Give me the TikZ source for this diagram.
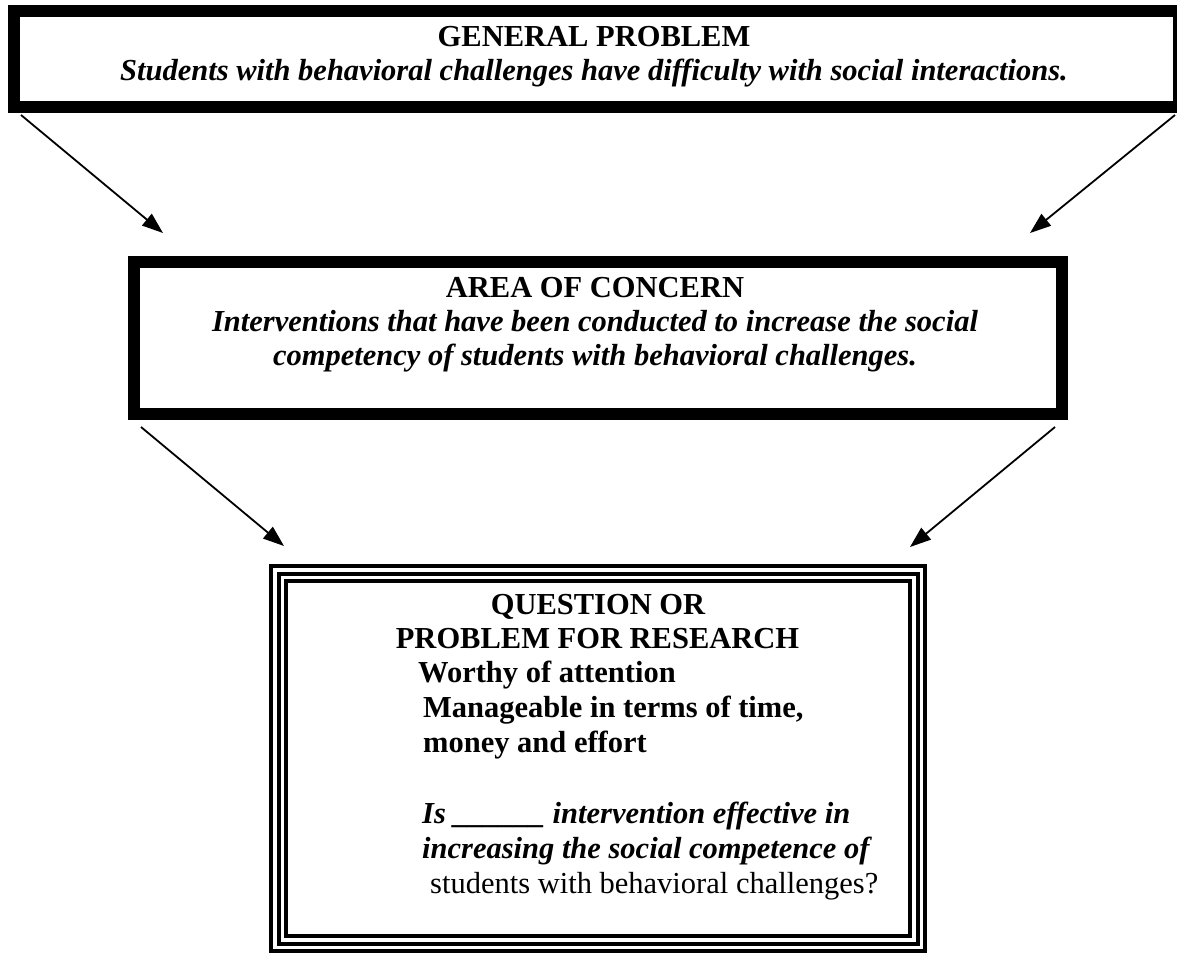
\documentclass[tikz,border=0pt]{standalone}
\usepackage{fontspec}
\setmainfont{Liberation Serif}
\usetikzlibrary{arrows.meta}
\begin{document}
\begin{tikzpicture}[x=1pt,y=-1pt,
  thickbox/.style={draw=black, line width=12pt, inner sep=0pt, outer sep=0pt},
  thinbox/.style={draw=black, line width=4pt, inner sep=0pt, outer sep=0pt},
  txt/.style={inner sep=0pt, font=\fontsize{30.5pt}{35pt}\selectfont},
  hd/.style={txt, anchor=base, font=\fontsize{30.5pt}{35pt}\selectfont\bfseries},
  it/.style={txt, anchor=base, font=\fontsize{30.5pt}{35pt}\selectfont\bfseries\itshape},
  conn/.style={line width=1.8pt, -{Triangle[length=21pt,width=15pt]}}
]
\useasboundingbox (0,0) rectangle (1177,955);
\fill[white] (0,0) rectangle (1177,955);

% boxes
\node[thickbox, minimum width=1164.5pt, minimum height=96.5pt] (gp) at (596.25,59.25) {};
\node[thickbox, minimum width=928pt, minimum height=152pt] (ac) at (598,338) {};
\node[thinbox, minimum width=654pt, minimum height=385pt] (qp) at (598,758.5) {};
\draw[line width=4pt] ([shift={(7.5pt,-7.5pt)}]qp.north west) rectangle ([shift={(-7.5pt,7.5pt)}]qp.south east);
\draw[line width=4pt] ([shift={(15pt,-15pt)}]qp.north west) rectangle ([shift={(-15pt,15pt)}]qp.south east);

% texts
\node[hd] (gpt) at (594,47) {GENERAL PROBLEM};
\node[it] (gpi) at (594,81) {Students with behavioral challenges have difficulty with social interactions.};

\node[hd] (act) at (595,297) {AREA OF CONCERN};
\node[it] (aci1) at (595,331) {Interventions that have been conducted to increase the social};
\node[it] (aci2) at (595,365) {competency of students with behavioral challenges.};

\node[hd] (q1) at (598,614) {QUESTION OR};
\node[hd] (q2) at (597.5,648) {PROBLEM FOR RESEARCH};
\node[hd, anchor=base west] (q3) at (418,682) {Worthy of attention};
\node[hd, anchor=base west] (q4) at (423,717) {Manageable in terms of time,};
\node[hd, anchor=base west] (q5) at (423,752) {money and effort};
\node[it, anchor=base west] (q6) at (422,823) {Is \_\_\_\_\_\_ intervention effective in};
\node[it, anchor=base west] (q7) at (422,858) {increasing the social competence of};
\node[txt, anchor=base west] (q8) at (430,893) {students with behavioral challenges?};

% connector ends
\coordinate (e1) at (163,233);
\coordinate (e2) at (1030,233);
\coordinate (e3) at (284,546);
\coordinate (e4) at (910,547);

\draw[conn] ([shift={(7pt,-7.5pt)}]gp.south west) -- (e1);
\draw[conn] ([shift={(-3.5pt,-7.5pt)}]gp.south east) -- (e2);
\draw[conn] ([shift={(7pt,-13pt)}]ac.south west) -- (e3);
\draw[conn] ([shift={(-7pt,-13pt)}]ac.south east) -- (e4);
\end{tikzpicture}
\end{document}
